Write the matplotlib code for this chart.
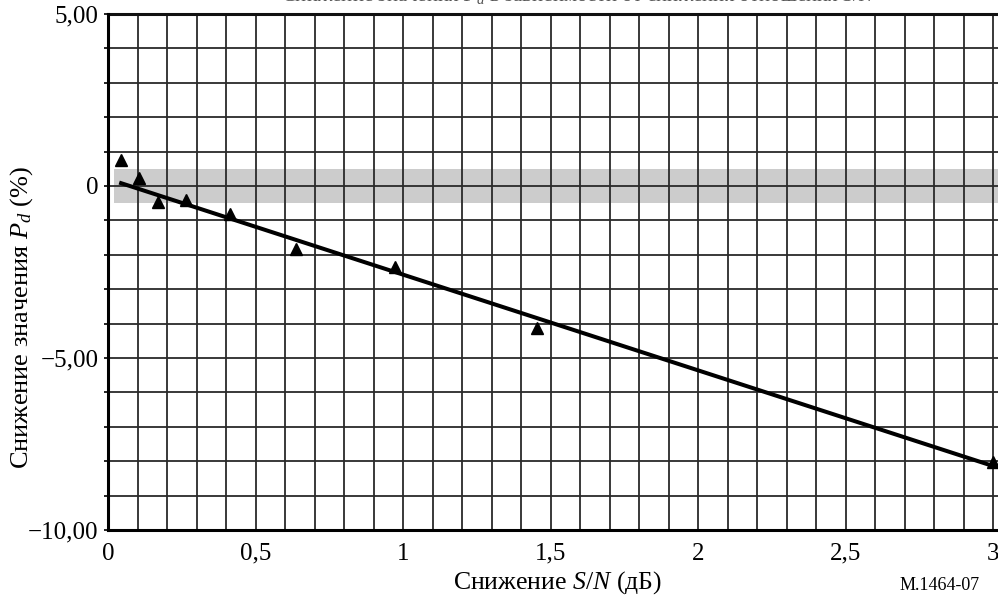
import numpy as np
import matplotlib
matplotlib.use('Agg')
import matplotlib.pyplot as plt
from matplotlib.ticker import FixedLocator

plt.rcParams['font.family'] = ['Liberation Serif', 'DejaVu Serif']
plt.rcParams['mathtext.fontset'] = 'custom'
plt.rcParams['mathtext.rm'] = 'Liberation Serif'
plt.rcParams['mathtext.it'] = 'Liberation Serif:italic'

# measured points: S/N reduction (dB) vs reduction of Pd (%)
snr_drop = [0.044, 0.106, 0.169, 0.265, 0.415, 0.638, 0.973, 1.455, 3.0]
pd_drop = [0.76, 0.24, -0.47, -0.41, -0.81, -1.84, -2.35, -4.14, -8.01]

# fitted straight line (end points)
fit_x = [0.038, 3.0]
fit_y = [0.10, -8.14]

# grey tolerance band
band_x = [0.02, 3.02]
band_lo = -0.5
band_hi = 0.5

x_ticks = [0, 0.5, 1, 1.5, 2, 2.5, 3]
x_labels = ['0', '0,5', '1', '1,5', '2', '2,5', '3']
y_ticks = [5, 0, -5, -10]
y_labels = ['5,00', '0', '\u22125,00', '\u221210,00']

fig = plt.figure(figsize=(9.98, 6.03), dpi=100)
ax = fig.add_axes([108 / 998, 73 / 603, 890 / 998, 516 / 603])

xmax = 3 + 5 / 295
ax.set_xlim(0, xmax)
ax.set_ylim(-10, 5)

ax.fill_between(band_x, band_lo, band_hi, color='#cccccc', lw=0, zorder=1, clip_on=False)

# grid: 0.1 dB columns, 1 % rows
for gx in np.arange(0, 3.01, 0.1):
    ax.axvline(gx, color='#2a2a2a', lw=1.3, zorder=2)
for gy in range(-10, 6):
    ax.axhline(gy, color='#2a2a2a', lw=1.3, zorder=2)
ax.axhline(5, color='#111111', lw=2.2, zorder=2, clip_on=False)

ax.plot(fit_x, fit_y, color='black', lw=2.9, zorder=4, solid_capstyle='butt')
ax.plot(snr_drop, pd_drop, linestyle='none', marker='^', ms=8.5,
        color='black', zorder=5, clip_on=False)

for s in ['top', 'right']:
    ax.spines[s].set_visible(False)
ax.spines['left'].set_linewidth(2.2)
ax.spines['bottom'].set_linewidth(2.2)

ax.xaxis.set_major_locator(FixedLocator(x_ticks))
ax.set_xticklabels(x_labels)
ax.tick_params(axis='x', length=0, pad=9, labelsize=18)
ax.yaxis.set_major_locator(FixedLocator(y_ticks))
ax.set_yticklabels(y_labels)
ax.yaxis.set_minor_locator(FixedLocator(range(-10, 6)))
ax.tick_params(axis='y', which='both', length=3, width=1.2, pad=4, labelsize=18)

ax.set_xlabel('Снижение $S/N$ (дБ)', fontsize=18.5, va='center', ha='center')
ax.xaxis.set_label_coords((557 - 108) / 890, -(583 - 530) / 516)
ax.set_ylabel('Снижение значения $P_d$ (%)', fontsize=19, va='center', ha='center')
ax.yaxis.set_label_coords(-(108 - 22) / 890, (530 - 317) / 516)

fig.text(980 / 998, 1 - 585 / 603, 'M.1464-07', fontsize=13, ha='right', va='center')
# title is cut off at the top edge in the reference
fig.text(0.58, 1 - 1.5 / 603, 'Снижение значения $P_d$ в зависимости от снижения отношения $S/N$',
         fontsize=15, ha='center', va='baseline', color='#555555')

fig.savefig('out.png', dpi=100)
